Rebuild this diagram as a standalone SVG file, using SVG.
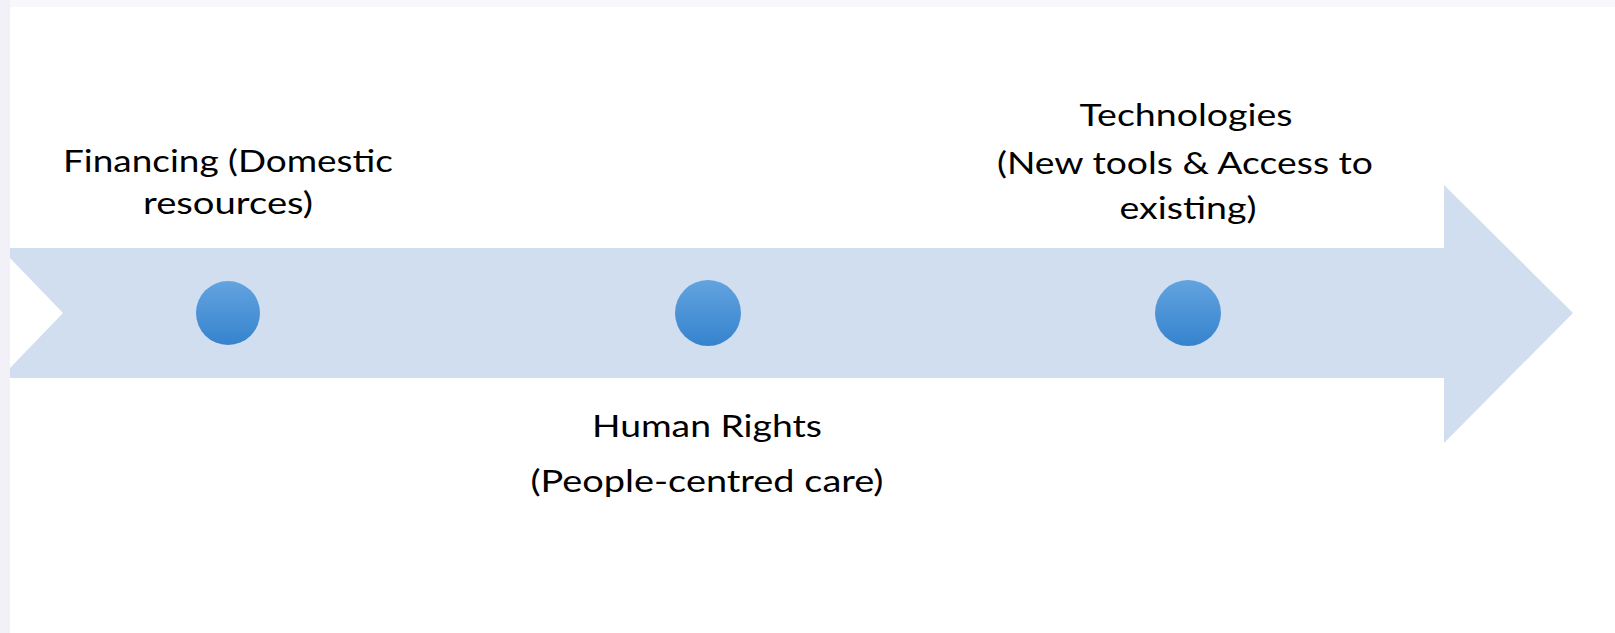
<svg xmlns="http://www.w3.org/2000/svg" width="1615" height="633" viewBox="0 0 1615 633">
  <defs>
    <linearGradient id="dotGrad" x1="0" y1="0" x2="0" y2="1">
      <stop offset="0" stop-color="#63a3e0"/>
      <stop offset="1" stop-color="#3583cd"/>
    </linearGradient>
    <style>
      .lbl { font-family: "Lato", "Liberation Sans", sans-serif; font-size: 31px; fill: #000000; text-anchor: middle; }
      .dot { fill: url(#dotGrad); }
      .band { fill: #d1deef; }
    </style>
  </defs>
  <rect x="0" y="0" width="1615" height="633" fill="#ffffff"/>
  <rect x="0" y="0" width="1615" height="7" fill="#f8f8fc"/>
  <rect x="0" y="0" width="10" height="633" fill="#f1f1f7"/>

  <g id="connectors">
    <polygon class="band" points="10,248 1444,248 1444,185 1573,313 1444,443 1444,378 10,378 10,368 63,313 10,258"/>
  </g>

  <g id="node-financing">
    <circle class="dot" cx="228" cy="313" r="32"/>
    <text class="lbl" x="228" y="172" textLength="330" lengthAdjust="spacingAndGlyphs">Financing (Domestic</text>
    <text class="lbl" x="228" y="214" textLength="170" lengthAdjust="spacingAndGlyphs">resources)</text>
  </g>

  <g id="node-human-rights">
    <circle class="dot" cx="708" cy="313" r="33"/>
    <text class="lbl" x="707" y="437" textLength="230" lengthAdjust="spacingAndGlyphs">Human Rights</text>
    <text class="lbl" x="707" y="492" textLength="353" lengthAdjust="spacingAndGlyphs">(People-centred care)</text>
  </g>

  <g id="node-technologies">
    <circle class="dot" cx="1188" cy="313" r="33"/>
    <text class="lbl" x="1186" y="126" textLength="213" lengthAdjust="spacingAndGlyphs">Technologies</text>
    <text class="lbl" x="1185" y="174" textLength="376" lengthAdjust="spacingAndGlyphs">(New tools &amp; Access to</text>
    <text class="lbl" x="1188" y="219" textLength="137" lengthAdjust="spacingAndGlyphs">existing)</text>
  </g>
</svg>
